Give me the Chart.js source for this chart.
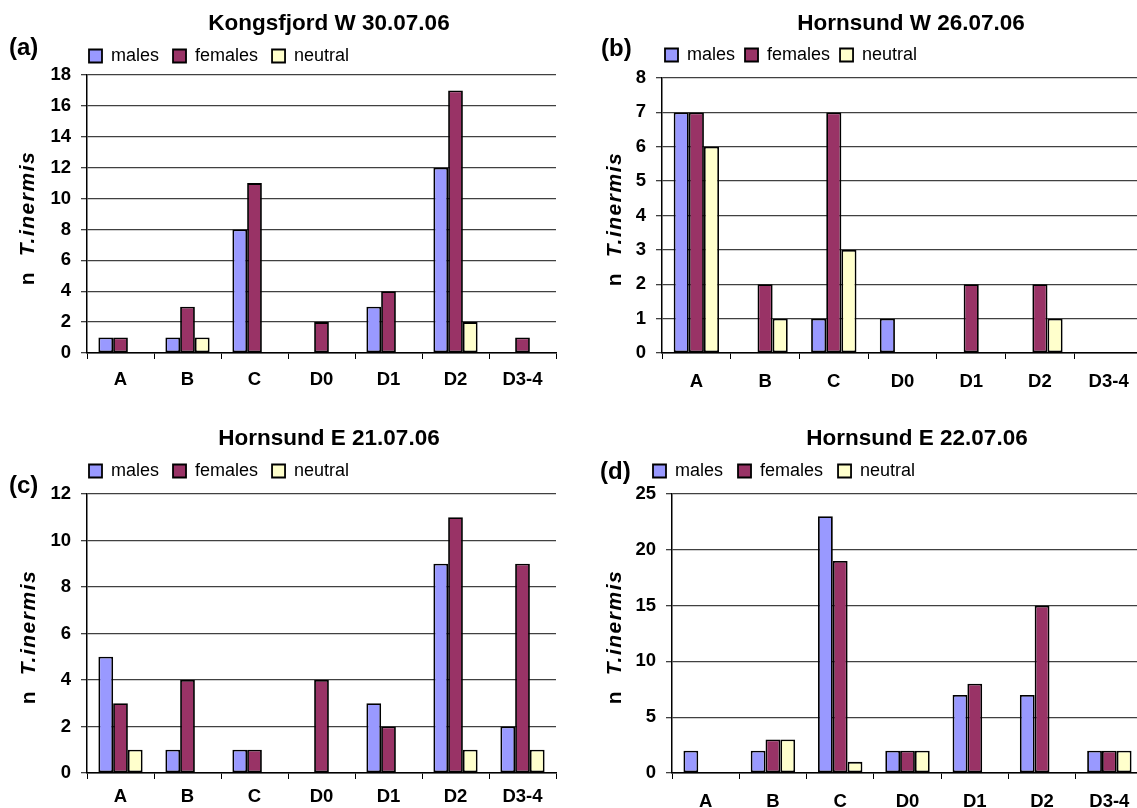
<!DOCTYPE html>
<html>
<head>
<meta charset="utf-8">
<script src="https://cdn.jsdelivr.net/npm/chart.js@4.4.0/dist/chart.umd.min.js"></script>
<style>
body { margin:0; width:1137px; height:808px; overflow:hidden; background:#fff; position:relative;
       font-family:"Liberation Sans", Arial, sans-serif; color:#000; }
canvas { position:absolute; }
.ttl { position:absolute; font-weight:bold; font-size:22.5px; white-space:nowrap; transform:translate(-50%,-50%); }
.lab { position:absolute; font-weight:bold; font-size:24px; white-space:nowrap; transform:translateY(-50%); }
.ytl { position:absolute; font-weight:bold; font-size:21px; white-space:nowrap; letter-spacing:1.5px;
       transform:translate(-50%,-50%) rotate(-90deg); }
</style>
</head>
<body>

<canvas id="ca" width="566" height="400" style="left:0;top:0"></canvas>
<canvas id="cb" width="578" height="400" style="left:570px;top:0"></canvas>
<canvas id="cc" width="566" height="408" style="left:0;top:400px"></canvas>
<canvas id="cd" width="578" height="408" style="left:570px;top:400px"></canvas>

<div class="ttl" style="left:329px;top:23px">Kongsfjord W 30.07.06</div>
<div class="ttl" style="left:911px;top:23px">Hornsund W 26.07.06</div>
<div class="ttl" style="left:329px;top:438px">Hornsund E 21.07.06</div>
<div class="ttl" style="left:917px;top:438px">Hornsund E 22.07.06</div>

<div class="lab" style="left:9px;top:47px">(a)</div>
<div class="lab" style="left:601px;top:48px">(b)</div>
<div class="lab" style="left:9px;top:485px">(c)</div>
<div class="lab" style="left:600px;top:471px">(d)</div>

<div class="ytl" style="left:27px;top:218px">n &nbsp;<i>T.inermis</i></div>
<div class="ytl" style="left:614px;top:219px">n &nbsp;<i>T.inermis</i></div>
<div class="ytl" style="left:28px;top:637px">n &nbsp;<i>T.inermis</i></div>
<div class="ytl" style="left:614px;top:637px">n &nbsp;<i>T.inermis</i></div>

<script>
// stages on the x axis
var categories = ["A", "B", "C", "D0", "D1", "D2", "D3-4"];
var seriesNames = ["males", "females", "neutral"];

// (a) Kongsfjord W 30.07.06
var malesA   = [1, 1, 8, 0, 3, 12, 0];
var femalesA = [1, 3, 11, 2, 4, 17, 1];
var neutralA = [0, 1, 0, 0, 0, 2, 0];

// (b) Hornsund W 26.07.06
var malesB   = [7, 0, 1, 1, 0, 0, 0];
var femalesB = [7, 2, 7, 0, 2, 2, 0];
var neutralB = [6, 1, 3, 0, 0, 1, 0];

// (c) Hornsund E 21.07.06
var malesC   = [5, 1, 1, 0, 3, 9, 2];
var femalesC = [3, 4, 1, 4, 2, 11, 9];
var neutralC = [1, 0, 0, 0, 0, 1, 1];

// (d) Hornsund E 22.07.06
var malesD   = [2, 2, 23, 2, 7, 7, 2];
var femalesD = [0, 3, 19, 2, 8, 15, 2];
var neutralD = [0, 3, 1, 2, 0, 0, 2];

// y axis ranges
var yMax  = [18, 8, 12, 25];
var yStep = [2, 1, 2, 5];

var colors = ["#9999FF", "#993366", "#FFFFCC"];
var fontFam = '"Liberation Sans", Arial, sans-serif';

function makeChart(id, series, max, step, lay)
{
    var datasets = [];
    for (var i = 0; i < series.length; i++) {
        datasets.push({
            label: seriesNames[i],
            data: series[i],
            backgroundColor: colors[i],
            borderColor: "#000",
            borderWidth: 1.8,
            borderSkipped: false,
            inflateAmount: 0,
            categoryPercentage: 0.66,
            barPercentage: 1.0
        });
    }

    // legend sits left of / right of the plot like in the excel sheet
    var legendShift = {
        id: 'legendShift',
        afterLayout: function(chart) {
            var w = chart.legend.right - chart.legend.left;
            chart.legend.left = lay.legX - lay.legPad;
            chart.legend.right = chart.legend.left + w;
        }
    };

    return new Chart(document.getElementById(id), {
        type: 'bar',
        data: { labels: categories, datasets: datasets },
        plugins: [legendShift],
        options: {
            responsive: false,
            animation: false,
            events: [],
            layout: { padding: { left: 0, right: lay.padR, top: lay.padTop, bottom: 0 } },
            plugins: {
                title: { display: false },
                tooltip: { enabled: false },
                subtitle: {
                    display: lay.spacer > 0,
                    text: '',
                    weight: 500,
                    font: { size: 1, lineHeight: 1 },
                    padding: { top: lay.spacer - 1, bottom: 0 }
                },
                legend: {
                    position: 'top',
                    align: 'start',
                    labels: {
                        boxWidth: 13,
                        boxHeight: 13,
                        padding: lay.legPad,
                        color: '#000',
                        font: { family: fontFam, size: 18 }
                    }
                }
            },
            scales: {
                x: {
                    afterFit: function(scale) { scale.height = lay.xH; },
                    grid: { offset: true, drawOnChartArea: false, drawTicks: true, tickLength: 6, color: '#000', lineWidth: 1 },
                    border: { display: true, color: '#000', width: 1.5 },
                    ticks: { color: '#000', padding: lay.tickPad, maxRotation: 0,
                             font: { family: fontFam, size: 18.5, weight: 'bold' } }
                },
                y: {
                    min: 0,
                    max: max,
                    afterFit: function(scale) { scale.width = lay.yW; },
                    grid: { color: '#404040', lineWidth: 1.3, tickLength: 6 },
                    border: { display: true, color: '#000', width: 1.5 },
                    ticks: { stepSize: step, color: '#000', padding: 10,
                             font: { family: fontFam, size: 18.5, weight: 'bold' } }
                }
            }
        }
    });
}

makeChart("ca", [malesA, femalesA, neutralA], yMax[0], yStep[0],
    { legX: 89, padR: 10, padTop: 33, yW: 87, xH: 47, spacer: 0, legPad: 14, tickPad: 10 });
makeChart("cb", [malesB, femalesB, neutralB], yMax[1], yStep[1],
    { legX: 95, padR: 5, padTop: 36, yW: 92, xH: 47, spacer: 4, legPad: 10, tickPad: 12 });
makeChart("cc", [malesC, femalesC, neutralC], yMax[2], yStep[2],
    { legX: 89, padR: 10, padTop: 48, yW: 87, xH: 35, spacer: 4, legPad: 14, tickPad: 7 });
makeChart("cd", [malesD, femalesD, neutralD], yMax[3], yStep[3],
    { legX: 83, padR: 5, padTop: 47, yW: 102, xH: 35, spacer: 4, legPad: 15, tickPad: 12 });
</script>
</body>
</html>
